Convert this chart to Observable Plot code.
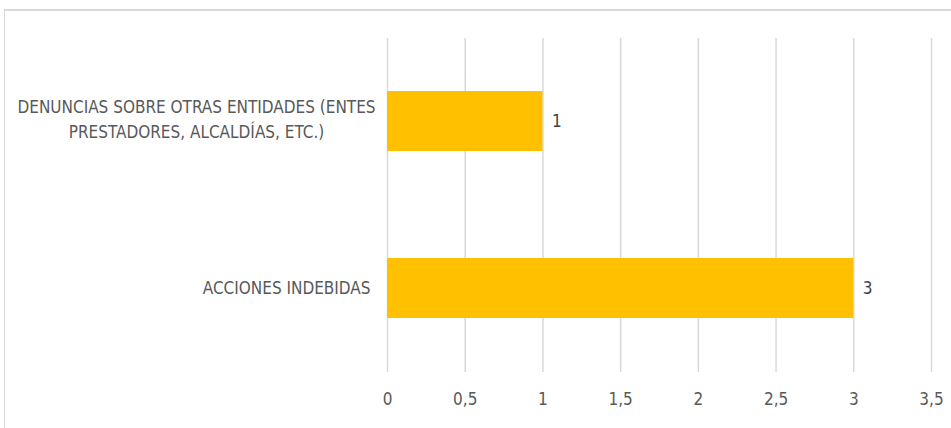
<!DOCTYPE html>
<html>
<head>
<meta charset="utf-8">
<script src="https://cdn.jsdelivr.net/npm/d3@7"></script>
<script src="https://cdn.jsdelivr.net/npm/@observablehq/plot@0.6"></script>
<style>
  html, body { margin: 0; padding: 0; background: #fff; overflow: hidden; }
  #wrap { position: relative; width: 951px; height: 428px; overflow: hidden; }
  #frame { position: absolute; left: 4px; top: 9px; width: 2000px; height: 2000px;
           border-left: 1px solid #d9d9d9; border-top: 2px solid #d9d9d9; box-sizing: border-box; }
  #chart { position: absolute; left: 0; top: 0; }
</style>
</head>
<body>
<div id="wrap"><div id="frame"></div><div id="chart"></div></div>
<script>
const categories = [
  "DENUNCIAS SOBRE OTRAS ENTIDADES (ENTES PRESTADORES, ALCALDÍAS, ETC.)",
  "ACCIONES INDEBIDAS"
];
const tickLabels = [
  "DENUNCIAS SOBRE OTRAS ENTIDADES (ENTES\nPRESTADORES, ALCALDÍAS, ETC.)",
  "ACCIONES INDEBIDAS"
];
const values = [1, 3];
const xTicks = [0, 0.5, 1, 1.5, 2, 2.5, 3, 3.5];

const data = categories.map((c, i) => ({category: c, value: values[i]}));
const labelOf = c => tickLabels[categories.indexOf(c)];
const fmt = d => String(d).replace(".", ",");

const font = "'Liberation Sans Narrow', 'DejaVu Sans Condensed', 'DejaVu Sans', sans-serif";

const chart = Plot.plot({
  width: 951,
  height: 428,
  marginLeft: 387,
  marginRight: 20,
  marginTop: 38,
  marginBottom: 56,
  style: {fontFamily: font, fontSize: "17px", color: "#595959", background: "transparent"},
  x: {domain: [0, 3.5], ticks: xTicks, label: null},
  y: {domain: categories, paddingInner: 0.64, paddingOuter: 0.32, label: null},
  marks: [
    Plot.gridX(xTicks, {stroke: "#d9d9d9", strokeOpacity: 1, strokeWidth: 1.5}),
    Plot.barX(data, {x: "value", y: "category", fill: "#FFC000"}),
    Plot.text(data, {x: "value", y: "category", text: d => fmt(d.value), textAnchor: "start", dx: 9, fill: "#404040", fontSize: 17}),
    Plot.axisX(xTicks, {tickSize: 0, tickPadding: 20, tickFormat: fmt, fill: "#595959", fontSize: 17, label: null}),
    Plot.axisY([categories[0]], {tickSize: 0, tickPadding: 0, textAnchor: "middle", dx: -191, dy: -4, lineHeight: 1.45, tickFormat: labelOf, fill: "#595959", fontSize: 17, label: null}),
    Plot.axisY([categories[1]], {tickSize: 0, tickPadding: 17, textAnchor: "end", tickFormat: labelOf, fill: "#595959", fontSize: 17, label: null})
  ]
});
document.getElementById("chart").appendChild(chart);
</script>
</body>
</html>
